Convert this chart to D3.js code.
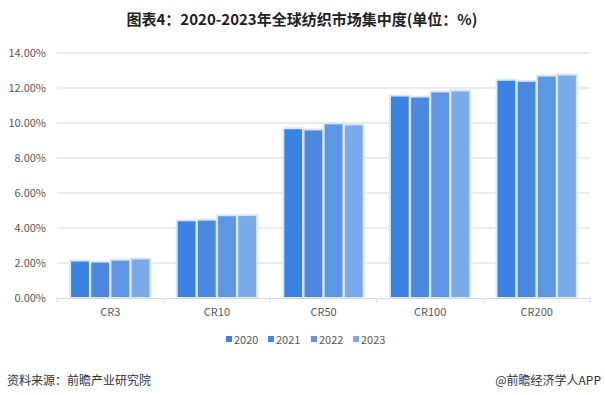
<!DOCTYPE html>
<html><head><meta charset="utf-8">
<script src="https://cdn.jsdelivr.net/npm/d3@7"></script>
<style>body{margin:0;background:#fff}svg{display:block}</style>
</head><body>
<svg id="c" width="605" height="395"></svg>
<script>
const categories = ["CR3","CR10","CR50","CR100","CR200"];
const years = ["2020","2021","2022","2023"];
const v2020 = [2.14, 4.44, 9.70, 11.57, 12.47];
const v2021 = [2.08, 4.48, 9.63, 11.51, 12.41];
const v2022 = [2.19, 4.73, 9.98, 11.80, 12.71];
const v2023 = [2.26, 4.74, 9.92, 11.86, 12.77];
const series = [v2020, v2021, v2022, v2023];
const yTicks = [0,2,4,6,8,10,12,14];
const colors = ["#3a83e2","#4a89dd","#5d97e3","#7aaae9"];

const svg = d3.select("#c");
const font = "'Microsoft YaHei','Noto Sans CJK SC',sans-serif";
const L = 57, R = 590, T = 53, B = 298;
const x = d3.scaleBand().domain(categories).range([L, R]).paddingInner(0).paddingOuter(0);
const y = d3.scaleLinear().domain([0, 14]).range([B, T]);
const xs = d3.scaleBand().domain(years).range([0, x.bandwidth()]).paddingOuter(0.65).paddingInner(0.02);

svg.append("text").attr("x", 302).attr("y", 25).attr("text-anchor", "middle")
  .attr("font-family", font).attr("font-weight", "bold").attr("font-size", 15).attr("fill", "#222")
  .text("图表4：2020-2023年全球纺织市场集中度(单位：%)");

// gridlines
svg.append("g").selectAll("line").data(yTicks.filter(d => d > 0)).join("line")
  .attr("x1", L).attr("x2", R).attr("y1", d => y(d)).attr("y2", d => y(d))
  .attr("stroke", "#d9d9d9").attr("stroke-width", 1);

// y axis labels
const yAxis = d3.axisLeft(y).tickValues(yTicks).tickSize(0).tickPadding(0)
  .tickFormat(d => d.toFixed(2) + "%");
const ya = svg.append("g").attr("transform", `translate(46,0)`).call(yAxis);
ya.select(".domain").remove();
ya.selectAll("text").attr("font-family", font).attr("font-size", 11).attr("fill", "#595959");

// bars
const g = svg.append("g");
series.forEach((vals, si) => {
  g.selectAll(null).data(vals).join("rect")
    .attr("x", (d, i) => x(categories[i]) + xs(years[si]))
    .attr("y", d => y(d))
    .attr("width", xs.bandwidth())
    .attr("height", d => B - y(d))
    .attr("fill", colors[si])
    .attr("stroke", "#dbe6f3").attr("stroke-width", 2);
});

// x axis
const xAxis = d3.axisBottom(x).tickSize(0).tickPadding(10);
const xa = svg.append("g").attr("transform", `translate(0,${B})`).call(xAxis);
xa.select(".domain").attr("stroke", "#d9d9d9");
xa.selectAll("text").attr("font-family", font).attr("font-size", 11).attr("fill", "#595959");
svg.append("g").selectAll("line").data(d3.range(categories.length + 1)).join("line")
  .attr("x1", i => L + i * x.step()).attr("x2", i => L + i * x.step())
  .attr("y1", B).attr("y2", B + 5).attr("stroke", "#d9d9d9");

// legend
const lg = svg.append("g");
const lx = [226, 268, 311, 353];
years.forEach((yr, i) => {
  lg.append("rect").attr("x", lx[i]).attr("y", 336).attr("width", 6).attr("height", 6).attr("fill", colors[i]);
  lg.append("text").attr("x", lx[i] + 8).attr("y", 343.5).attr("font-family", font)
    .attr("font-size", 11).attr("fill", "#595959").text(yr);
});

// footer
svg.append("text").attr("x", 7).attr("y", 385).attr("font-family", font).attr("font-size", 12)
  .attr("fill", "#333").text("资料来源：前瞻产业研究院");
svg.append("text").attr("x", 601).attr("y", 385).attr("text-anchor", "end").attr("font-family", font)
  .attr("font-size", 12).attr("fill", "#333").text("@前瞻经济学人APP");
</script>
</body></html>
